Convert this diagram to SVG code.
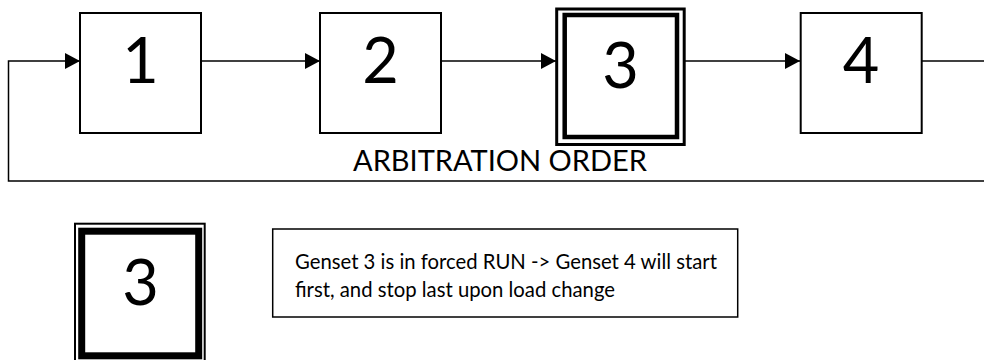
<svg xmlns="http://www.w3.org/2000/svg" width="984" height="360" viewBox="0 0 984 360">
<style>
.box{fill:#fff;stroke:#000;stroke-width:2}
.digit{font-family:Lato,"Liberation Sans",sans-serif;font-size:63px;fill:#000;text-anchor:middle}
.lbl{font-family:Lato,"Liberation Sans",sans-serif;fill:#000}
.conn{fill:none;stroke:#000;stroke-width:1.5}
</style>
<defs>
<marker id="arr" markerUnits="userSpaceOnUse" markerWidth="16" markerHeight="16" viewBox="0 0 16 16" refX="15" refY="8" orient="auto">
<path d="M0,0 L15,8 L0,16 Z" fill="#000"/>
</marker>
</defs>
<g id="connectors">
<path class="conn" d="M201,61 H320" marker-end="url(#arr)"/>
<path class="conn" d="M441,61 H556" marker-end="url(#arr)"/>
<path class="conn" d="M685,61 H800" marker-end="url(#arr)"/>
<path class="conn" d="M922,61 H984"/>
<path class="conn" d="M984,181 H8.5 V61 H80" marker-end="url(#arr)"/>
</g>
<g id="node1">
<rect class="box" x="80" y="13" width="121" height="120"/>
<text class="digit" x="140.5" y="83">1</text>
</g>
<g id="node2">
<rect class="box" x="320" y="13" width="121" height="120"/>
<text class="digit" x="380.5" y="83">2</text>
</g>
<g id="node3">
<rect x="556.7" y="9" width="127.5" height="135.5" fill="#fff" stroke="#000" stroke-width="3"/>
<rect x="564.7" y="15" width="112.3" height="122" fill="none" stroke="#000" stroke-width="4.5"/>
<text class="digit" x="620.5" y="88">3</text>
</g>
<g id="node4">
<rect class="box" x="800.7" y="13" width="121" height="120"/>
<text class="digit" x="861" y="83">4</text>
</g>
<g id="title">
<text class="lbl" x="353" y="171" font-size="29">ARBITRATION ORDER</text>
</g>
<g id="legend-node">
<rect x="75" y="223.7" width="129.7" height="145" fill="#fff" stroke="#000" stroke-width="2"/>
<rect x="81.7" y="231.2" width="117" height="124.6" fill="none" stroke="#000" stroke-width="7"/>
<text class="digit" x="140.5" y="305">3</text>
</g>
<g id="note">
<rect x="272.7" y="229" width="465" height="88" fill="#fff" stroke="#000" stroke-width="1.5"/>
<text class="lbl" font-size="20.3" x="295" y="269">Genset 3 is in forced RUN -&gt; Genset 4 will start</text>
<text class="lbl" font-size="20.3" x="295" y="297">first, and stop last upon load change</text>
</g>
</svg>
